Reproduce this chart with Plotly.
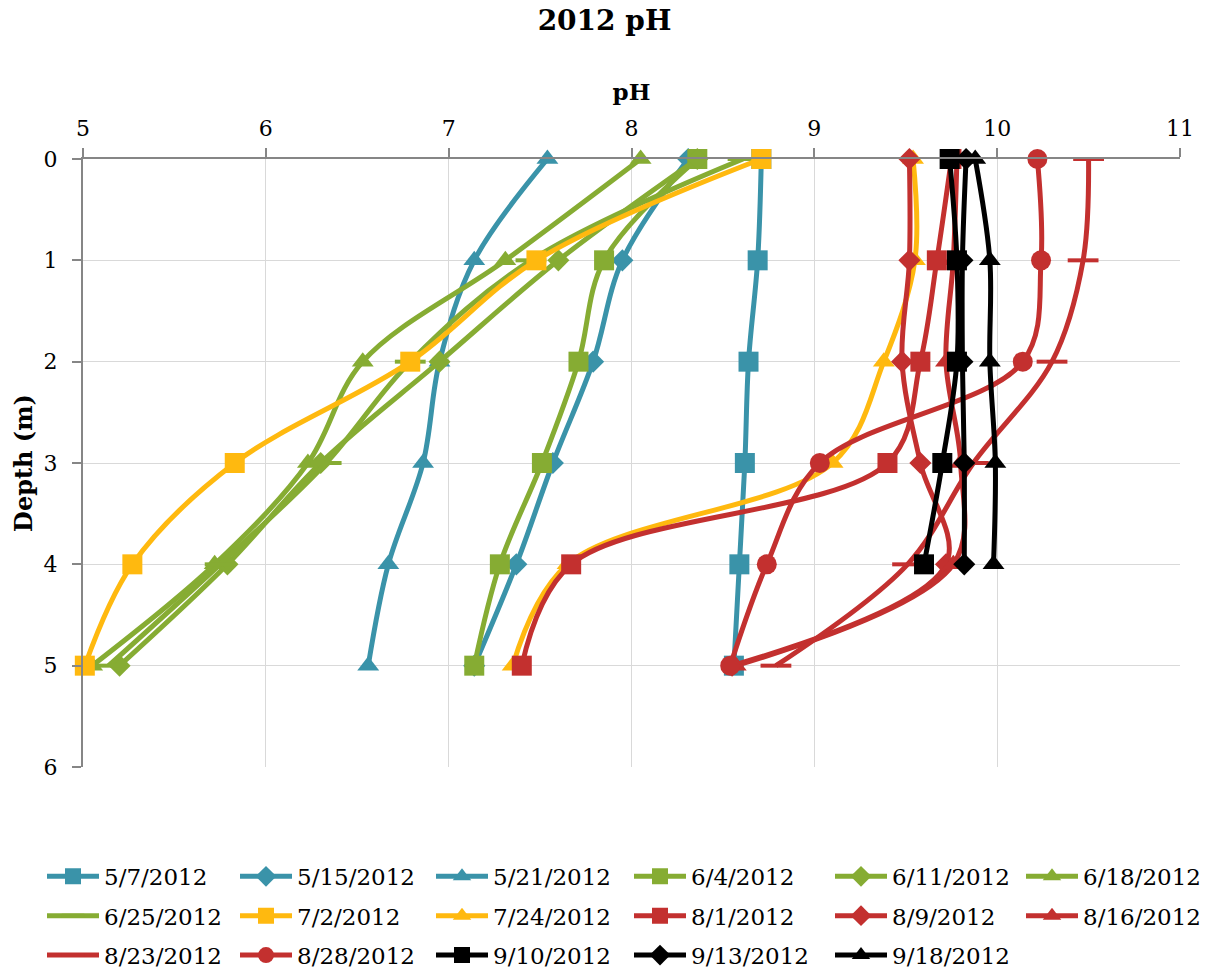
import plotly.graph_objects as go

depth = [0, 1, 2, 3, 4, 5]
depth_sep = [0, 1, 2, 3, 4]

series_names = ["5/7/2012", "5/15/2012", "5/21/2012", "6/4/2012", "6/11/2012", "6/18/2012",
                "6/25/2012", "7/2/2012", "7/24/2012", "8/1/2012", "8/9/2012", "8/16/2012",
                "8/23/2012", "8/28/2012", "9/10/2012", "9/13/2012", "9/18/2012"]

ph_0507 = [8.71, 8.69, 8.64, 8.62, 8.59, 8.56]
ph_0515 = [8.31, 7.95, 7.79, 7.57, 7.37, 7.14]
ph_0521 = [7.54, 7.14, 6.95, 6.86, 6.67, 6.56]
ph_0604 = [8.36, 7.85, 7.71, 7.51, 7.28, 7.14]
ph_0611 = [8.36, 7.60, 6.95, 6.30, 5.79, 5.20]
ph_0618 = [8.05, 7.31, 6.53, 6.23, 5.72, 5.05]
ph_0625 = [8.61, 7.45, 6.79, 6.33, 5.75, 5.14]
ph_0702 = [8.71, 7.48, 6.79, 5.83, 5.27, 5.01]
ph_0724 = [9.54, 9.55, 9.38, 9.10, 7.65, 7.35]
ph_0801 = [9.75, 9.67, 9.58, 9.40, 7.67, 7.40]
ph_0809 = [9.52, 9.52, 9.48, 9.58, 9.72, 8.55]
ph_0816 = [9.78, 9.76, 9.72, 9.80, 9.76, 8.57]
ph_0823 = [10.50, 10.47, 10.30, 9.87, 9.51, 8.79]
ph_0828 = [10.22, 10.24, 10.14, 9.03, 8.74, 8.54]
ph_0910 = [9.74, 9.78, 9.78, 9.70, 9.60]
ph_0913 = [9.83, 9.81, 9.81, 9.82, 9.82]
ph_0918 = [9.88, 9.96, 9.96, 9.99, 9.98]

TEAL = "#3A93A9"
GREEN = "#86AC33"
YELLOW = "#FFB90F"
RED = "#C3302F"
BLACK = "#000000"

specs = [
    (ph_0507, depth, TEAL, "square", 20),
    (ph_0515, depth, TEAL, "diamond", 17),
    (ph_0521, depth, TEAL, "triangle-up", 19),
    (ph_0604, depth, GREEN, "square", 20),
    (ph_0611, depth, GREEN, "diamond", 17),
    (ph_0618, depth, GREEN, "triangle-up", 19),
    (ph_0625, depth, GREEN, "line-ew", 22),
    (ph_0702, depth, YELLOW, "square", 20),
    (ph_0724, depth, YELLOW, "triangle-up", 19),
    (ph_0801, depth, RED, "square", 20),
    (ph_0809, depth, RED, "diamond", 17),
    (ph_0816, depth, RED, "triangle-up", 19),
    (ph_0823, depth, RED, "line-ew", 22),
    (ph_0828, depth, RED, "circle", 20),
    (ph_0910, depth_sep, BLACK, "square", 20),
    (ph_0913, depth_sep, BLACK, "diamond", 17),
    (ph_0918, depth_sep, BLACK, "triangle-up", 19),
]

# legend columns (line start pixel in reference)
col_line_start = [48, 241, 437, 635, 836, 1027]

FONT = "DejaVu Serif"
fig = go.Figure()
for i, (name, (xs, ys, col, sym, size)) in enumerate(zip(series_names, specs)):
    c = i % 6
    legend = "legend" if c == 0 else f"legend{c + 1}"
    if sym == "line-ew":
        marker = dict(symbol=sym, size=size, color=col, line=dict(color=col, width=4))
    else:
        marker = dict(symbol=sym, size=size, color=col, line=dict(width=0))
    fig.add_trace(go.Scatter(
        x=xs, y=ys, name=name, mode="lines+markers",
        line=dict(color=col, width=5, shape="spline", smoothing=1.0),
        marker=marker, legend=legend, legendgroup=f"g{i}", cliponaxis=False,
    ))

leg_common = dict(orientation="v", xanchor="left", yanchor="top",
                  font=dict(family=FONT, size=23, color="#000"),
                  bgcolor="rgba(0,0,0,0)", itemwidth=52, tracegroupgap=6.5)

layout_legends = {}
for c, px in enumerate(col_line_start):
    key = "legend" if c == 0 else f"legend{c + 1}"
    layout_legends[key] = dict(x=(px - 6 - 83) / 1097, y=-0.1445, **leg_common)

fig.update_layout(
    width=1209, height=976,
    margin=dict(l=83, r=29, t=159, b=209, autoexpand=False),
    paper_bgcolor="white", plot_bgcolor="white",
    font=dict(family=FONT, size=22, color="#000"),
    title=dict(text="<b>2012 pH</b>", x=0.5, xanchor="center", y=0.979, yanchor="middle",
               font=dict(family=FONT, size=28, color="#000")),
    xaxis=dict(range=[5, 11], dtick=1, side="top", showgrid=True, gridcolor="#D9D9D9",
               gridwidth=1, showline=True, linecolor="#868686", linewidth=2,
               ticks="outside", ticklen=9, tickcolor="#868686", tickwidth=1.5,
               zeroline=False, tickfont=dict(family=FONT, size=22), ticklabelstandoff=3,
               title=dict(text="<b>pH</b>", font=dict(family=FONT, size=23), standoff=9)),
    yaxis=dict(range=[6, 0], dtick=1, showgrid=True, gridcolor="#D9D9D9", gridwidth=1,
               showline=True, linecolor="#868686", linewidth=2,
               ticks="outside", ticklen=9, tickcolor="#868686", tickwidth=1.5,
               zeroline=False, tickfont=dict(family=FONT, size=22), ticklabelstandoff=10,
               title=dict(text="<b>Depth (m)</b>", font=dict(family=FONT, size=24), standoff=4)),
    **layout_legends,
)

fig.write_html("out.html")
